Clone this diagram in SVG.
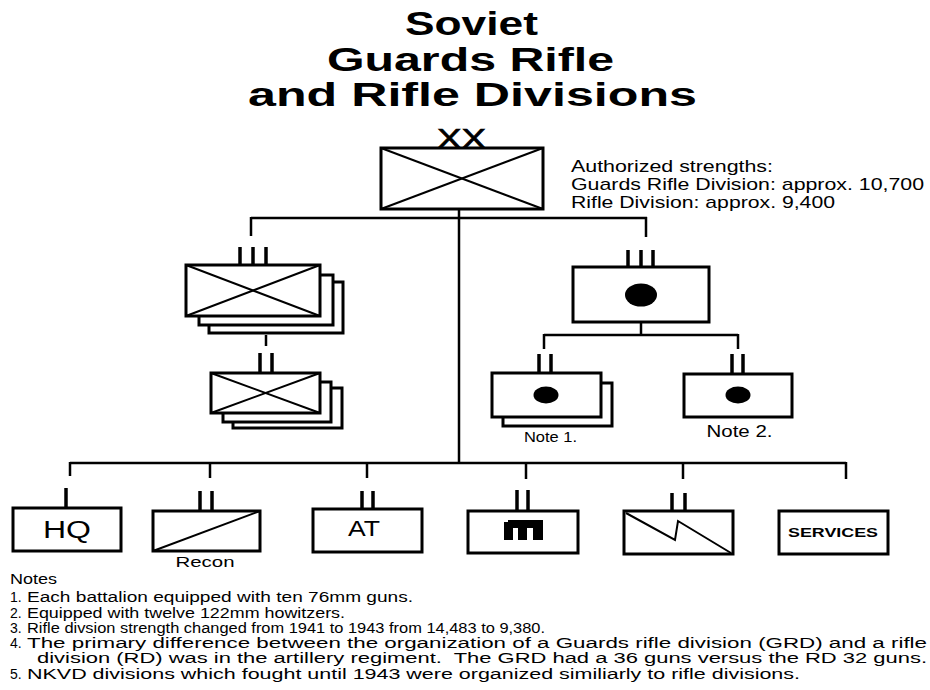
<svg xmlns="http://www.w3.org/2000/svg" width="930" height="690" viewBox="0 0 930 690">
<style>
  .box { fill: #fff; stroke: #000; stroke-width: 3; }
  .diag { stroke: #000; stroke-width: 2; fill: none; }
  .con { stroke: #000; stroke-width: 2.5; fill: none; }
  .mark { stroke: #000; stroke-width: 3.5; }
  .t { font-family: "Liberation Sans", Arial, sans-serif; fill: #000; }
  .title { font-family: "Liberation Sans", Arial, sans-serif; font-weight: bold; font-size: 34px; fill: #000; }
  .note { font-family: "Liberation Sans", Arial, sans-serif; font-size: 14px; fill: #000; }
</style>

<g id="title">
  <text class="title" x="471.5" y="35" text-anchor="middle" textLength="133" lengthAdjust="spacingAndGlyphs">Soviet</text>
  <text class="title" x="470.5" y="71" text-anchor="middle" textLength="287" lengthAdjust="spacingAndGlyphs">Guards Rifle</text>
  <text class="title" x="472.5" y="106" text-anchor="middle" textLength="449" lengthAdjust="spacingAndGlyphs">and Rifle Divisions</text>
</g>

<g id="connectors">
  <line class="con" x1="251" y1="218" x2="647" y2="218"/>
  <line class="con" x1="251" y1="217" x2="251" y2="236"/>
  <line class="con" x1="646" y1="217" x2="646" y2="237"/>
  <line class="con" x1="459" y1="209" x2="459" y2="463"/>
  <line class="con" x1="266" y1="335" x2="266" y2="346"/>
  <line class="con" x1="641" y1="322" x2="641" y2="335"/>
  <line class="con" x1="544" y1="335" x2="738" y2="335"/>
  <line class="con" x1="544" y1="334" x2="544" y2="349"/>
  <line class="con" x1="738" y1="334" x2="738" y2="349"/>
  <line class="con" x1="70" y1="463" x2="846" y2="463"/>
  <line class="con" x1="70" y1="462" x2="70" y2="476"/>
  <line class="con" x1="210" y1="462" x2="210" y2="478"/>
  <line class="con" x1="367" y1="462" x2="367" y2="478"/>
  <line class="con" x1="526" y1="462" x2="526" y2="479"/>
  <line class="con" x1="683" y1="462" x2="683" y2="479"/>
  <line class="con" x1="846" y1="462" x2="846" y2="479"/>
</g>

<g id="division">
  <text class="t" x="461.5" y="148" font-size="28" stroke="#000" stroke-width="0.7" text-anchor="middle" textLength="49" lengthAdjust="spacingAndGlyphs">XX</text>
  <rect class="box" x="381" y="148" width="162" height="61"/>
  <line class="diag" x1="381" y1="148" x2="543" y2="209"/>
  <line class="diag" x1="543" y1="148" x2="381" y2="209"/>
</g>

<g id="strengths">
  <text class="t" x="571" y="172" font-size="17" textLength="202" lengthAdjust="spacingAndGlyphs">Authorized strengths:</text>
  <text class="t" x="571" y="190" font-size="17" textLength="353" lengthAdjust="spacingAndGlyphs">Guards Rifle Division: approx. 10,700</text>
  <text class="t" x="571" y="208" font-size="17" textLength="264" lengthAdjust="spacingAndGlyphs">Rifle Division: approx. 9,400</text>
</g>

<g id="rifle-regiment">
  <line class="mark" x1="240" y1="247" x2="240" y2="265"/>
  <line class="mark" x1="253" y1="247" x2="253" y2="265"/>
  <line class="mark" x1="266" y1="247" x2="266" y2="265"/>
  <rect class="box" x="209" y="282" width="134" height="51"/>
  <rect class="box" x="199" y="275" width="134" height="50"/>
  <rect class="box" x="186" y="265" width="134" height="51"/>
  <line class="diag" x1="186" y1="265" x2="320" y2="316"/>
  <line class="diag" x1="320" y1="265" x2="186" y2="316"/>
</g>

<g id="rifle-battalion">
  <line class="mark" x1="260" y1="353" x2="260" y2="373"/>
  <line class="mark" x1="272" y1="353" x2="272" y2="373"/>
  <rect class="box" x="233" y="388" width="109" height="40"/>
  <rect class="box" x="223" y="382" width="108" height="40"/>
  <rect class="box" x="211" y="373" width="109" height="40"/>
  <line class="diag" x1="211" y1="373" x2="320" y2="413"/>
  <line class="diag" x1="320" y1="373" x2="211" y2="413"/>
</g>

<g id="artillery-regiment">
  <line class="mark" x1="628" y1="250" x2="628" y2="267"/>
  <line class="mark" x1="641" y1="250" x2="641" y2="267"/>
  <line class="mark" x1="653" y1="250" x2="653" y2="267"/>
  <rect class="box" x="573" y="267" width="136" height="55"/>
  <ellipse cx="641" cy="295" rx="16" ry="11.5" fill="#000"/>
</g>

<g id="artillery-battalion-1">
  <line class="mark" x1="539" y1="354" x2="539" y2="373"/>
  <line class="mark" x1="551" y1="354" x2="551" y2="373"/>
  <rect class="box" x="503" y="383" width="109" height="43"/>
  <rect class="box" x="492" y="373" width="109" height="44"/>
  <ellipse cx="546" cy="395" rx="12.5" ry="8.5" fill="#000"/>
  <text class="t" x="550.5" y="442" font-size="15" text-anchor="middle" textLength="53" lengthAdjust="spacingAndGlyphs">Note 1.</text>
</g>

<g id="artillery-battalion-2">
  <line class="mark" x1="732" y1="354" x2="732" y2="374"/>
  <line class="mark" x1="743" y1="354" x2="743" y2="374"/>
  <rect class="box" x="684" y="374" width="108" height="43"/>
  <ellipse cx="738" cy="395" rx="12.5" ry="8.5" fill="#000"/>
  <text class="t" x="739.5" y="437" font-size="16" text-anchor="middle" textLength="66" lengthAdjust="spacingAndGlyphs">Note 2.</text>
</g>

<g id="hq">
  <line class="mark" x1="66" y1="488" x2="66" y2="508"/>
  <rect class="box" x="13" y="508" width="108" height="43"/>
  <text class="t" x="67" y="538" font-size="23" text-anchor="middle" textLength="48" lengthAdjust="spacingAndGlyphs">HQ</text>
</g>

<g id="recon">
  <line class="mark" x1="200" y1="491" x2="200" y2="511"/>
  <line class="mark" x1="212" y1="491" x2="212" y2="511"/>
  <rect class="box" x="153" y="511" width="107" height="40"/>
  <line class="diag" x1="153" y1="551" x2="260" y2="511"/>
  <text class="t" x="205" y="567" font-size="15" text-anchor="middle" textLength="59" lengthAdjust="spacingAndGlyphs">Recon</text>
</g>

<g id="at">
  <line class="mark" x1="362" y1="491" x2="362" y2="509"/>
  <line class="mark" x1="373" y1="491" x2="373" y2="509"/>
  <rect class="box" x="313" y="509" width="109" height="43"/>
  <text class="t" x="364" y="536" font-size="22" text-anchor="middle" textLength="32" lengthAdjust="spacingAndGlyphs">AT</text>
</g>

<g id="rocket">
  <line class="mark" x1="517" y1="490" x2="517" y2="511"/>
  <line class="mark" x1="528" y1="490" x2="528" y2="511"/>
  <rect class="box" x="468" y="511" width="110" height="42"/>
  <path d="M504,522 L508,522 L508,520 L543,520 L543,540 L533,540 L533,528 L527,528 L527,540 L518,540 L518,528 L513,528 L513,540 L504,540 Z" fill="#000"/>
</g>

<g id="signal">
  <line class="mark" x1="672" y1="493" x2="672" y2="511"/>
  <line class="mark" x1="685" y1="493" x2="685" y2="511"/>
  <rect class="box" x="624" y="511" width="109" height="43"/>
  <polyline class="diag" points="626,513 675,540 678,521 731,553"/>
</g>

<g id="services">
  <rect class="box" x="779" y="511" width="109" height="43"/>
  <text class="t" x="833" y="537" font-size="13" font-weight="bold" text-anchor="middle" textLength="90" lengthAdjust="spacingAndGlyphs">SERVICES</text>
</g>

<g id="notes">
  <text class="note" x="10" y="584" textLength="47" lengthAdjust="spacingAndGlyphs">Notes</text>
  <text class="note" x="10" y="602">1.</text>
  <text class="note" x="27" y="602" textLength="386" lengthAdjust="spacingAndGlyphs">Each battalion equipped with ten 76mm guns.</text>
  <text class="note" x="10" y="618">2.</text>
  <text class="note" x="27" y="618" textLength="318" lengthAdjust="spacingAndGlyphs">Equipped with twelve 122mm howitzers.</text>
  <text class="note" x="10" y="633">3.</text>
  <text class="note" x="27" y="633" textLength="518" lengthAdjust="spacingAndGlyphs">Rifle divsion strength changed from 1941 to 1943 from 14,483 to 9,380.</text>
  <text class="note" x="10" y="648">4.</text>
  <text class="note" x="27" y="648" textLength="900" lengthAdjust="spacingAndGlyphs">The primary difference between the organization of a Guards rifle division (GRD) and a rifle</text>
  <text class="note" x="37" y="663" textLength="890" lengthAdjust="spacingAndGlyphs" xml:space="preserve">division (RD) was in the artillery regiment.  The GRD had a 36 guns versus the RD 32 guns.</text>
  <text class="note" x="10" y="679">5.</text>
  <text class="note" x="27" y="679" textLength="773" lengthAdjust="spacingAndGlyphs">NKVD divisions which fought until 1943 were organized similiarly to rifle divisions.</text>
</g>
</svg>
